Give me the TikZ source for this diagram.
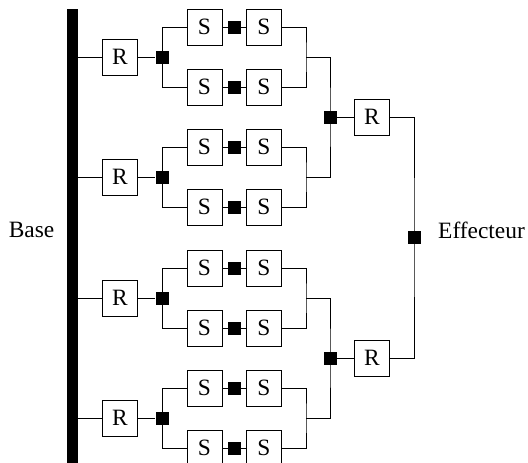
\documentclass[tikz,border=0pt]{standalone}
\usepackage{fontspec}
\setmainfont{Liberation Serif}
\begin{document}
\begin{tikzpicture}[x=1pt,y=-1pt,
  box/.style={draw, line width=1pt, minimum width=35pt, minimum height=36pt, inner sep=0pt, font=\fontsize{23.4}{26}\selectfont},
  jn/.style={fill=black, minimum size=13pt, inner sep=0pt},
  wire/.style={line width=1pt},
  lbl/.style={inner sep=0pt, font=\fontsize{23.4}{26}\selectfont}]
\useasboundingbox (0,0) rectangle (528,463);
\clip (0,0) rectangle (528,463);
\node[fill=black, minimum width=11pt, minimum height=470pt, anchor=north, inner sep=0pt] (bar) at (72.5,9) {};
\foreach \g/\y in {1/57,2/177,3/298,4/418} {
  \node[box] (R\g) at (120,\y) {R};
  \node[jn] (J\g) at (162,\y) {};
  \foreach \r/\dy in {a/-30,b/30} {
    \node[box] (S\g\r1) at (204.5,\y+\dy) {S};
    \node[jn] (K\g\r) at (234.5,\y+\dy) {};
    \node[box] (S\g\r2) at (264,\y+\dy) {S};
    \draw[wire] (J\g.center) |- (S\g\r1.west);
    \draw[wire] (S\g\r1) -- (K\g\r) -- (S\g\r2);
  }
  \coordinate (M\g) at (306,\y);
  \draw[wire] (S\g a2.east) -| (M\g) |- (S\g b2.east);
  \draw[wire] (bar.east |- R\g.west) -- (R\g.west);
  \draw[wire] (R\g) -- (J\g);
}
\node[jn] (P1) at (330,117) {};
\node[jn] (P2) at (330,358) {};
\node[box] (T1) at (372,117) {R};
\node[box] (T2) at (372,358) {R};
\node[jn] (E) at (414,237) {};
\draw[wire] (M1) -| (P1.center) |- (M2);
\draw[wire] (M3) -| (P2.center) |- (M4);
\draw[wire] (P1) -- (T1);
\draw[wire] (P2) -- (T2);
\draw[wire] (T1.east) -| (E.center) |- (T2.east);
\node[lbl] (base) at (31.5,230) {Base};
\node[lbl, anchor=west] (eff) at (438,230) {Effecteur};
\end{tikzpicture}
\end{document}
